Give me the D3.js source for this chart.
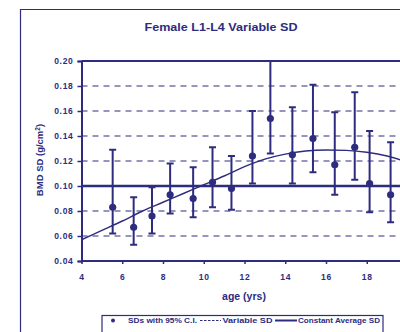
<!DOCTYPE html>
<html>
<head>
<meta charset="utf-8">
<script src="https://cdn.jsdelivr.net/npm/d3@7"></script>
<style>
  body { margin: 0; background: #fff; }
  svg { display: block; font-family: "Liberation Sans", Arial, sans-serif; font-weight: bold; }
</style>
</head>
<body>
<div id="chart"></div>
<script>
// measured SDs with 95% CI
var ages  = [5.53, 6.56, 7.46, 8.35, 9.48, 10.43, 11.36, 12.39, 13.27, 14.35, 15.36, 16.43, 17.41, 18.14, 19.17];
var sds   = [0.083, 0.067, 0.076, 0.093, 0.090, 0.103, 0.098, 0.124, 0.154, 0.125, 0.138, 0.117, 0.131, 0.102, 0.093];
var upper = [0.129, 0.091, 0.099, 0.118, 0.115, 0.131, 0.124, 0.160, 0.200, 0.163, 0.181, 0.159, 0.175, 0.144, 0.135];
var lower = [0.062, 0.053, 0.062, 0.078, 0.075, 0.083, 0.081, 0.102, 0.126, 0.102, 0.111, 0.093, 0.105, 0.079, 0.071];

// variable SD curve
var curveAges = [4, 5, 6, 7, 8, 9, 10, 11, 12, 13, 14, 15, 16, 17, 18, 19, 20];
var curveSD   = [0.057, 0.0645, 0.072, 0.080, 0.087, 0.094, 0.101, 0.108, 0.1155, 0.1215, 0.1255, 0.128, 0.1288, 0.1285, 0.127, 0.124, 0.119];

var constantSD = 0.10;
var xTicks = [4, 6, 8, 10, 12, 14, 16, 18, 20];
var yTicks = [0.04, 0.06, 0.08, 0.10, 0.12, 0.14, 0.16, 0.18, 0.20];
var gridValues = [0.06, 0.08, 0.12, 0.14, 0.16, 0.18];
var legendLabels = ["SDs with 95% C.I.", "Variable SD", "Constant Average SD"];

var ink = "#2e2c7e";
var W = 400, H = 332;

var svg = d3.select("#chart").append("svg").attr("width", W).attr("height", H);

var x = d3.scaleLinear().domain([4, 20]).range([81.5, 407.5]),
    y = d3.scaleLinear().domain([0.04, 0.20]).range([261, 61]);

// outer frame, only top and left are in view
svg.append("path")
    .attr("d", "M20.5," + H + "V9.5H" + W)
    .attr("fill", "none").attr("stroke", ink).attr("stroke-width", 1.2);

svg.append("text")
    .attr("x", 221).attr("y", 31)
    .attr("text-anchor", "middle")
    .attr("font-size", 11.5)
    .attr("textLength", 153)
    .attr("lengthAdjust", "spacingAndGlyphs")
    .attr("fill", ink)
    .text("Female L1-L4 Variable SD");

// dashed gridlines
svg.selectAll(".grid")
    .data(gridValues)
    .enter().append("line")
    .attr("class", "grid")
    .attr("x1", x(4)).attr("x2", W)
    .attr("y1", function (d) { return y(d); })
    .attr("y2", function (d) { return y(d); })
    .attr("stroke", ink).attr("stroke-width", 1.2)
    .attr("stroke-dasharray", "6,5");

// top border of plot
svg.append("line")
    .attr("x1", x(4)).attr("x2", W)
    .attr("y1", y(0.20)).attr("y2", y(0.20))
    .attr("stroke", ink).attr("stroke-width", 2);

// constant average SD
svg.append("line")
    .attr("x1", x(4)).attr("x2", W)
    .attr("y1", y(constantSD)).attr("y2", y(constantSD))
    .attr("stroke", ink).attr("stroke-width", 2.6);

// axes
var xAxis = svg.append("g")
    .attr("transform", "translate(0," + y(0.04) + ")")
    .call(d3.axisBottom(x).tickValues(xTicks).tickSize(3).tickPadding(10).tickFormat(d3.format("d")));
var yAxis = svg.append("g")
    .attr("transform", "translate(" + x(4) + ",0)")
    .call(d3.axisLeft(y).tickValues(yTicks).tickSize(4).tickPadding(4).tickFormat(d3.format(".2f")));

[xAxis, yAxis].forEach(function (g) {
    g.select(".domain").attr("stroke", ink).attr("stroke-width", 2);
    g.selectAll(".tick line").attr("stroke", ink).attr("stroke-width", 1.5);
    g.selectAll(".tick text")
        .attr("fill", ink)
        .attr("font-family", "Liberation Sans, Arial, sans-serif")
        .attr("font-weight", "bold")
        .attr("font-size", 8.5)
        .attr("letter-spacing", 0.7);
});
xAxis.select(".domain").attr("d", "M" + x(4) + ",0H" + W);

// axis titles
svg.append("text")
    .attr("x", 244).attr("y", 300)
    .attr("text-anchor", "middle")
    .attr("font-size", 10.5)
    .attr("fill", ink)
    .text("age (yrs)");

var yl = svg.append("text")
    .attr("transform", "translate(43,160) rotate(-90)")
    .attr("text-anchor", "middle")
    .attr("font-size", 9.5)
    .attr("fill", ink);
yl.append("tspan").text("BMD SD (g/cm");
yl.append("tspan").attr("dy", -3).attr("font-size", 6.5).text("2");
yl.append("tspan").attr("dy", 3).text(")");

// variable SD curve
var line = d3.line()
    .curve(d3.curveMonotoneX)
    .x(function (d) { return x(d[0]); })
    .y(function (d) { return y(d[1]); });

svg.append("path")
    .datum(d3.zip(curveAges, curveSD))
    .attr("d", line)
    .attr("fill", "none")
    .attr("stroke", ink)
    .attr("stroke-width", 1.4);

// error bars
var pts = ages.map(function (a, i) {
    return { age: a, sd: sds[i], hi: upper[i], lo: lower[i] };
});

var bars = svg.selectAll(".bar")
    .data(pts)
    .enter().append("g")
    .attr("class", "bar");

bars.append("line")
    .attr("x1", function (d) { return x(d.age); })
    .attr("x2", function (d) { return x(d.age); })
    .attr("y1", function (d) { return y(d.hi); })
    .attr("y2", function (d) { return y(d.lo); })
    .attr("stroke", ink).attr("stroke-width", 2);

bars.selectAll(".cap")
    .data(function (d) { return [{ age: d.age, v: d.hi }, { age: d.age, v: d.lo }]; })
    .enter().append("line")
    .attr("x1", function (d) { return x(d.age) - 3.5; })
    .attr("x2", function (d) { return x(d.age) + 3.5; })
    .attr("y1", function (d) { return y(d.v); })
    .attr("y2", function (d) { return y(d.v); })
    .attr("stroke", ink).attr("stroke-width", 2);

bars.append("circle")
    .attr("cx", function (d) { return x(d.age); })
    .attr("cy", function (d) { return y(d.sd); })
    .attr("r", 3.6)
    .attr("fill", ink);

// legend
var lg = svg.append("g");
lg.append("rect")
    .attr("x", 102).attr("y", 315.5)
    .attr("width", 281).attr("height", 30)
    .attr("fill", "#fff").attr("stroke", ink).attr("stroke-width", 1.2);
lg.append("circle").attr("cx", 113).attr("cy", 320.5).attr("r", 2).attr("fill", ink);
lg.append("line").attr("x1", 200).attr("x2", 221).attr("y1", 320.5).attr("y2", 320.5)
    .attr("stroke", ink).attr("stroke-width", 1).attr("stroke-dasharray", "2.5,1.5");
lg.append("line").attr("x1", 275).attr("x2", 297).attr("y1", 320.5).attr("y2", 320.5)
    .attr("stroke", ink).attr("stroke-width", 2);

var legendX = [128, 222.5, 298],
    legendW = [69, 50, 82];
lg.selectAll(".lt")
    .data(legendLabels)
    .enter().append("text")
    .attr("x", function (d, i) { return legendX[i]; })
    .attr("y", 323)
    .attr("font-size", 7.2)
    .attr("textLength", function (d, i) { return legendW[i]; })
    .attr("lengthAdjust", "spacingAndGlyphs")
    .attr("fill", ink)
    .text(function (d) { return d; });
</script>
</body>
</html>
